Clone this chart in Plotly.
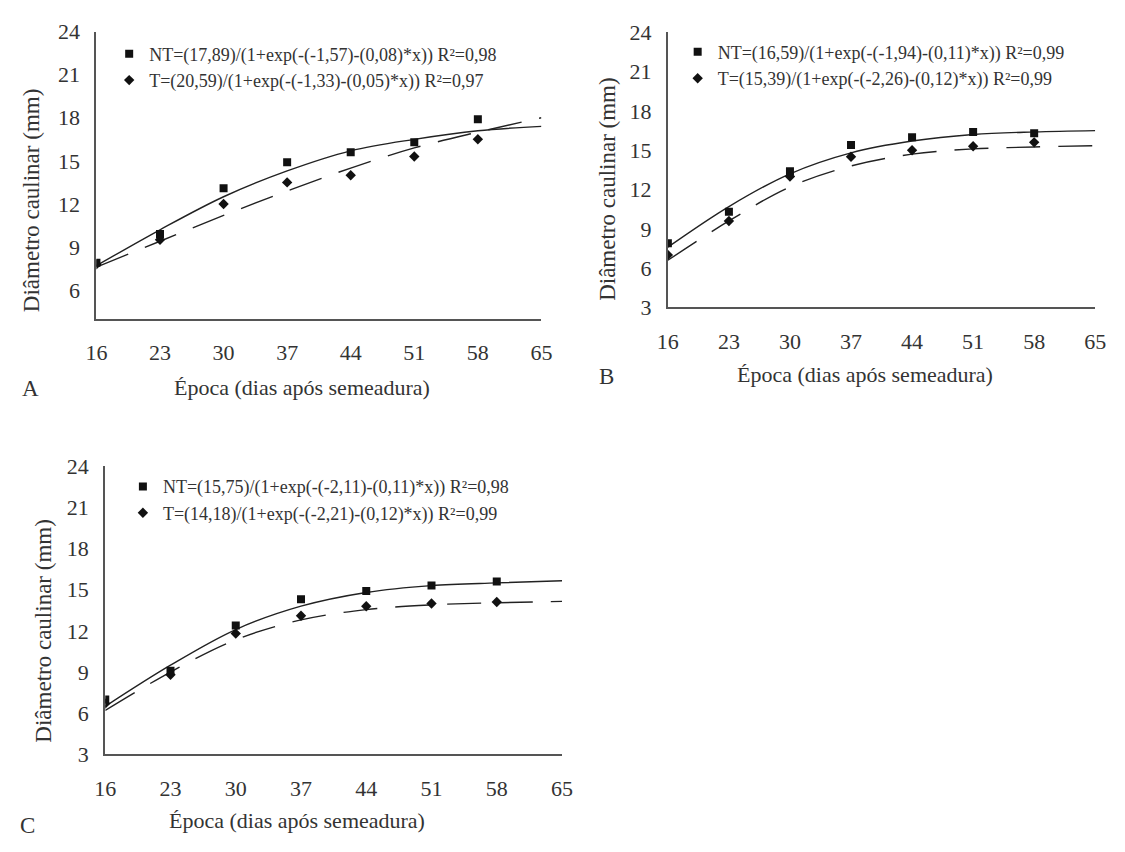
import plotly.graph_objects as go

# ---------------- data ----------------
days = [16, 23, 30, 37, 44, 51, 58]
fit_days = [16, 23, 30, 37, 44, 51, 58, 65]
x_ticks = [16, 23, 30, 37, 44, 51, 58, 65]

# Panel A
a_nt = [7.9, 9.9, 13.1, 14.9, 15.6, 16.3, 17.9]
a_t = [7.8, 9.5, 12.0, 13.5, 14.0, 15.3, 16.5]
a_nt_fit = [7.7, 10.2, 12.5, 14.3, 15.7, 16.5, 17.1, 17.4]
a_t_fit = [7.6, 9.4, 11.2, 12.9, 14.5, 15.9, 17.0, 18.0]
a_labels = ["NT=(17,89)/(1+exp(-(-1,57)-(0,08)*x)) R²=0,98",
            "T=(20,59)/(1+exp(-(-1,33)-(0,05)*x)) R²=0,97"]

# Panel B
b_nt = [7.9, 10.3, 13.4, 15.4, 16.0, 16.4, 16.3]
b_t = [7.0, 9.6, 13.0, 14.5, 15.0, 15.3, 15.6]
b_nt_fit = [7.6, 10.7, 13.2, 14.8, 15.7, 16.2, 16.4, 16.5]
b_t_fit = [6.6, 9.6, 12.2, 13.8, 14.7, 15.1, 15.25, 15.35]
b_labels = ["NT=(16,59)/(1+exp(-(-1,94)-(0,11)*x)) R²=0,99",
            "T=(15,39)/(1+exp(-(-2,26)-(0,12)*x)) R²=0,99"]

# Panel C
c_nt = [7.0, 9.1, 12.4, 14.3, 14.9, 15.3, 15.6]
c_t = [6.7, 8.8, 11.8, 13.1, 13.8, 14.0, 14.1]
c_nt_fit = [6.5, 9.5, 12.1, 13.8, 14.8, 15.3, 15.5, 15.65]
c_t_fit = [6.2, 9.0, 11.35, 12.8, 13.55, 13.9, 14.05, 14.15]
c_labels = ["NT=(15,75)/(1+exp(-(-2,11)-(0,11)*x)) R²=0,98",
            "T=(14,18)/(1+exp(-(-2,21)-(0,12)*x)) R²=0,99"]

x_title = "Época (dias após semeadura)"
y_title = "Diâmetro caulinar (mm)"
panel_letters = ["A", "B", "C"]

# ---------------- figure ----------------
PAGE_W, PAGE_H = 1125, 852
OFF = 8                      # default body margin of the html page
W, H = PAGE_W - 2 * OFF, PAGE_H - 2 * OFF
FONT = "Liberation Serif, Times New Roman, serif"
INK = "#222222"
TXT = "#333333"

fig = go.Figure()

panels = [
    dict(nt=a_nt, t=a_t, ntf=a_nt_fit, tf=a_t_fit, lab=a_labels, xa="x", ya="y", lg="legend"),
    dict(nt=b_nt, t=b_t, ntf=b_nt_fit, tf=b_t_fit, lab=b_labels, xa="x2", ya="y2", lg="legend2"),
    dict(nt=c_nt, t=c_t, ntf=c_nt_fit, tf=c_t_fit, lab=c_labels, xa="x3", ya="y3", lg="legend3"),
]

for p in panels:
    fig.add_trace(go.Scatter(x=fit_days, y=p["ntf"], mode="lines", line=dict(color=INK, width=1.4, shape="spline"),
                             xaxis=p["xa"], yaxis=p["ya"], showlegend=False, hoverinfo="skip"))
    fig.add_trace(go.Scatter(x=fit_days, y=p["tf"], mode="lines",
                             line=dict(color=INK, width=1.4, shape="spline", dash="34px,18px"),
                             xaxis=p["xa"], yaxis=p["ya"], showlegend=False, hoverinfo="skip"))
    fig.add_trace(go.Scatter(x=days, y=p["nt"], mode="markers", name=p["lab"][0],
                             marker=dict(symbol="square", size=8, color="#111111"),
                             xaxis=p["xa"], yaxis=p["ya"], legend=p["lg"]))
    fig.add_trace(go.Scatter(x=days, y=p["t"], mode="markers", name=p["lab"][1],
                             marker=dict(symbol="diamond", size=8, color="#111111"),
                             xaxis=p["xa"], yaxis=p["ya"], legend=p["lg"]))


def fx(px):
    return (px - OFF) / W


def fy(py):
    return 1 - (py - OFF) / H


def xaxis(a, b, anchor):
    return dict(domain=[fx(a), fx(b)], anchor=anchor, range=[16, 65], tickvals=x_ticks,
                showline=True, linecolor="#555555", linewidth=2, showgrid=False, zeroline=False,
                ticks="outside", ticklen=13, tickcolor="rgba(0,0,0,0)",
                tickfont=dict(family=FONT, size=22, color=TXT), fixedrange=True)


def yaxis(top, bottom, anchor, rng, vals):
    return dict(domain=[fy(bottom), fy(top)], anchor=anchor, range=rng, tickvals=vals,
                showline=True, linecolor="#555555", linewidth=2, showgrid=False, zeroline=False,
                ticks="outside", ticklen=10, tickcolor="rgba(0,0,0,0)",
                tickfont=dict(family=FONT, size=22, color=TXT), fixedrange=True)


legend_common = dict(font=dict(family=FONT, size=18, color=TXT), bgcolor="rgba(0,0,0,0)",
                     xanchor="left", yanchor="top", tracegroupgap=0, itemwidth=30)

fig.update_layout(
    width=W, height=H, margin=dict(l=0, r=0, t=0, b=0),
    paper_bgcolor="white", plot_bgcolor="white",
    xaxis=xaxis(87, 541, "y"),
    yaxis=yaxis(20, 316, "x", [4, 24], [6, 9, 12, 15, 18, 21, 24]),
    xaxis2=xaxis(670, 1106, "y2"),
    yaxis2=yaxis(20.7, 304.3, "x2", [3, 24], [3, 6, 9, 12, 15, 18, 21, 24]),
    xaxis3=xaxis(96, 562, "y3"),
    yaxis3=yaxis(468, 765, "x3", [3, 24], [3, 6, 9, 12, 15, 18, 21, 24]),
    legend=dict(legend_common, x=fx(100), y=fy(24)),
    legend2=dict(legend_common, x=fx(680), y=fy(22)),
    legend3=dict(legend_common, x=fx(114), y=fy(470)),
    showlegend=True,
)

# axis titles & panel letters (page pixel positions)
ann = []
for cx, cy in [(297, 387), (871, 373), (292, 833)]:
    ann.append(dict(text=x_title, x=fx(cx), y=fy(cy), xref="paper", yref="paper",
                    xanchor="center", yanchor="middle", showarrow=False,
                    font=dict(family=FONT, size=22, color=TXT)))
for cx, cy in [(21, 194), (609, 182), (33, 638)]:
    ann.append(dict(text=y_title, x=fx(cx), y=fy(cy), xref="paper", yref="paper",
                    xanchor="center", yanchor="middle", showarrow=False, textangle=-90,
                    font=dict(family=FONT, size=23, color=TXT)))
for letter, (cx, cy) in zip(panel_letters, [(20, 388), (607, 375), (17, 838)]):
    ann.append(dict(text=letter, x=fx(cx), y=fy(cy), xref="paper", yref="paper",
                    xanchor="center", yanchor="middle", showarrow=False,
                    font=dict(family=FONT, size=23, color=TXT)))
fig.update_layout(annotations=ann)

fig.write_html("out.html")
